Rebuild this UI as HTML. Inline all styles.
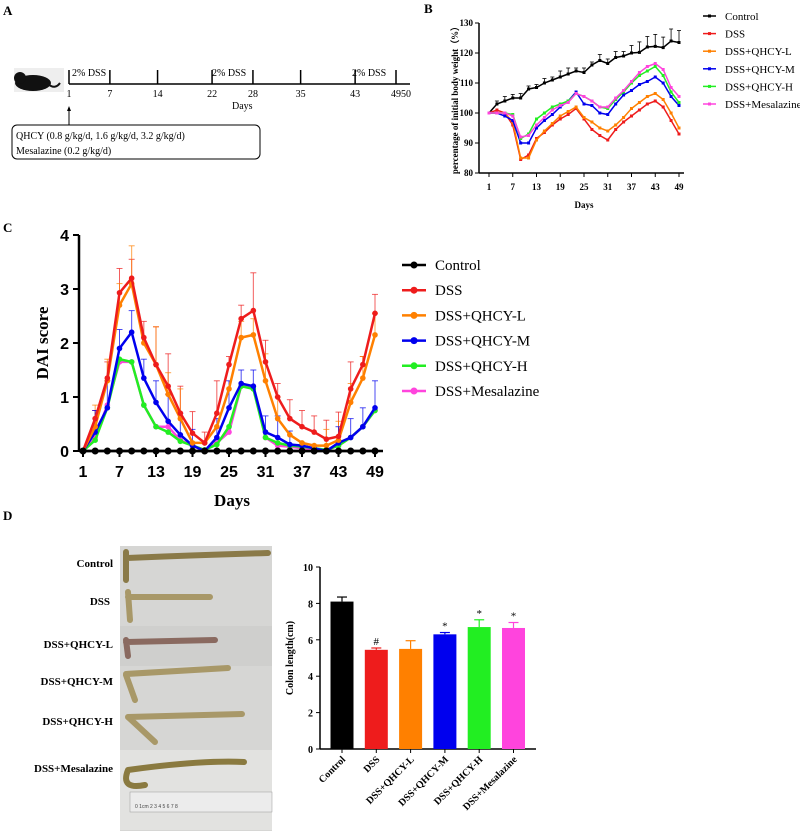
<!DOCTYPE html>
<html><head><meta charset="utf-8"><style>
html,body{margin:0;padding:0;background:#fff}
svg{display:block}
text{font-family:"Liberation Serif",serif}
.s{font-family:"Liberation Sans",sans-serif}
</style></head><body>
<svg id="fig" width="800" height="833" viewBox="0 0 800 833" xmlns="http://www.w3.org/2000/svg">
<g>
<text x="3" y="15" font-size="13" font-weight="bold">A</text>
<g>
<rect x="14" y="68" width="50" height="24" fill="#eee"/>
<ellipse cx="33" cy="83" rx="18" ry="8" fill="#111"/>
<circle cx="20" cy="78" r="6" fill="#111"/>
<path d="M48 84 Q55 90 60 83" stroke="#111" stroke-width="2" fill="none"/>
</g>
<line x1="69" y1="84" x2="410" y2="84" stroke="#000" stroke-width="1.5"/>
<g id="tl"></g>
<text x="72" y="76" font-size="10">2% DSS</text>
<text x="212" y="76" font-size="10">2% DSS</text>
<text x="352" y="76" font-size="10">2% DSS</text>
<text x="232" y="109" font-size="10">Days</text>
<line x1="69" y1="125" x2="69" y2="108" stroke="#000"/>
<path d="M67 111 L69 106 L71 111Z" fill="#000"/>
<rect x="12" y="125" width="248" height="34" rx="5" fill="none" stroke="#000"/>
<text x="16" y="139" font-size="10">QHCY (0.8 g/kg/d, 1.6 g/kg/d, 3.2 g/kg/d)</text>
<text x="16" y="154" font-size="10">Mesalazine (0.2 g/kg/d)</text>
</g>
<g id="pb">
<text x="424" y="13" font-size="13" font-weight="bold">B</text>
<text transform="translate(458,98) rotate(-90)" text-anchor="middle" font-size="9" font-weight="bold">percentage of initial body weight（%）</text>
<text x="584" y="208" text-anchor="middle" font-size="9" font-weight="bold">Days</text>
</g>
<g id="pc">
<text x="3" y="232" font-size="13" font-weight="bold">C</text>
<text transform="translate(48,343) rotate(-90)" text-anchor="middle" font-size="17" font-weight="bold">DAI score</text>
<text x="232" y="506" text-anchor="middle" font-size="17" font-weight="bold">Days</text>
</g>
<g id="pd">
<text x="3" y="520" font-size="13" font-weight="bold">D</text>
<g>
<rect x="120" y="546" width="152" height="285" fill="#d6d6d4"/>
<rect x="120" y="626" width="152" height="40" fill="#cfcfcd"/>
<rect x="120" y="750" width="152" height="80" fill="#e2e2e0"/>
<g stroke="#a89868" stroke-width="6" fill="none" stroke-linecap="round">
<path d="M126 552 L126 580 M126 558 Q200 555 268 553" stroke="#8a7a48"/>
<path d="M128 592 L130 620 M128 597 L210 597"/>
<path d="M126 640 L128 656 M126 642 L215 640" stroke="#8a6a60"/>
<path d="M126 675 L135 700 M126 674 L228 668"/>
<path d="M128 717 L155 742 M128 717 L242 714"/>
<path d="M128 770 Q120 790 145 785 M128 770 Q200 760 244 762" stroke="#8a7a40"/>
</g>
<rect x="130" y="792" width="142" height="20" fill="#ececec" stroke="#999" stroke-width="0.5"/>
<text x="135" y="808" font-size="5" class="s" fill="#444">0  1cm 2   3   4   5   6   7   8</text>
</g>
<g font-size="11" font-weight="bold" text-anchor="end">
<text x="113" y="567">Control</text>
<text x="110" y="605">DSS</text>
<text x="113" y="648">DSS+QHCY-L</text>
<text x="113" y="685">DSS+QHCY-M</text>
<text x="113" y="725">DSS+QHCY-H</text>
<text x="113" y="772">DSS+Mesalazine</text>
</g>
<text transform="translate(293,658) rotate(-90)" text-anchor="middle" font-size="10" font-weight="bold">Colon length(cm)</text>
</g>
<script>
const groups=["Control","DSS","DSS+QHCY-L","DSS+QHCY-M","DSS+QHCY-H","DSS+Mesalazine"];
const colors=["#000000","#ee1c1c","#ff8000","#0000ee","#22ee22","#ff44dd"];
const days=[1,3,5,7,9,11,13,15,17,19,21,23,25,27,29,31,33,35,37,39,41,43,45,47,49];
const bwControl=[100,103,104,105,105,108,108.5,110,111,112,113,114,113.5,116,117.5,116.5,118.5,119,120,120.2,122,122.2,121.8,124,123.5];
const bwControlErr=[0,1,1.5,1.2,1.5,1,1,1.5,1,2,2,1,1.5,1,2,1.5,2,1.5,2.5,3.5,3.5,4,3.5,4,4];
const bwDSS=[100,101,100,96,84.5,86,91.5,93.5,96,98,99.5,101.5,98,94.5,92.5,91,94.5,97,99,101,103,104,102,97.5,93];
const bwL=[100,100,100,97,85,85,91,94,96.5,99,100.5,102,98.5,97,95,94,96,98.5,101.5,103.5,105.5,106.5,104.5,100,95];
const bwM=[100,100,99,97.5,90,90,95,97.5,99.5,102,104,107,103,102.5,100,99.5,103,106,107.5,109.5,110.5,112,110,105.5,102.5];
const bwH=[100,100,100,99.5,91.5,93,98,100,102,103,104,106.5,105.5,104,102,101.5,104.5,107,110,112.5,114,115.5,112.5,107,103.5];
const bwMes=[100,100,100,99,92,92.5,96,98.5,101,102.5,103.5,106.5,105.5,104,102,102,105,107.5,110.5,113.5,115.5,116.5,114.5,108.5,105.5];
const bTicks=[80,90,100,110,120,130];
const daiControl=[0,0,0,0,0,0,0,0,0,0,0,0,0,0,0,0,0,0,0,0,0,0,0,0,0];
const daiDSS=[0,0.6,1.35,2.93,3.2,2.1,1.6,1.2,0.7,0.33,0.15,0.7,1.6,2.45,2.6,1.65,1.0,0.6,0.45,0.35,0.22,0.27,1.15,1.6,2.55];
const daiDSSErr=[0,0.15,0.3,0.45,0.35,0.3,0.7,0.6,0.5,0.4,0.2,0.6,0.15,0.25,0.7,0.4,0.25,0.35,0.3,0.3,0.35,0.45,0.5,0.15,0.35];
const daiL=[0,0.45,1.3,2.7,3.1,2.0,1.6,1.05,0.6,0.15,0.15,0.45,1.15,2.1,2.15,1.3,0.6,0.3,0.15,0.1,0.1,0.2,0.9,1.35,2.15];
const daiLErr=[0,0.4,0.4,0.4,0.7,0,0.7,0.4,0.55,0,0,0,0,0.3,0.3,0.5,0.4,0,0,0,0.3,0.35,0.35,0.4,0.4];
const daiM=[0,0.35,0.8,1.9,2.2,1.35,0.9,0.55,0.3,0.1,0,0.25,0.8,1.25,1.2,0.35,0.25,0.12,0.1,0.05,0,0.15,0.25,0.45,0.8];
const daiMErr=[0,0.4,0.5,0.35,0.4,0.35,0.4,0.5,0.4,0.3,0,0.35,0.5,0.25,0.3,0.3,0.4,0.25,0,0,0,0.3,0.35,0.35,0.5];
const daiH=[0,0.2,0.8,1.7,1.65,0.85,0.45,0.35,0.18,0.1,0.02,0.12,0.45,1.2,1.15,0.25,0.15,0.1,0.08,0.05,0.02,0.1,0.25,0.45,0.75];
const daiMes=[0,0.25,0.85,1.65,1.65,0.85,0.45,0.45,0.2,0.1,0.02,0.15,0.35,1.2,1.2,0.25,0.1,0.08,0.05,0.03,0.02,0.1,0.25,0.45,0.75];
const cTicks=[0,1,2,3,4];
const dayLabels=[1,7,13,19,25,31,37,43,49];
const colonLength=[8.1,5.45,5.5,6.3,6.7,6.65];
const colonErr=[0.25,0.1,0.45,0.1,0.4,0.3];
const colonMarks=["","#","","*","*","*"];
const dTicks=[0,2,4,6,8,10];
const tlDays=[1,7,14,22,28,35,43,49];

const NS="http://www.w3.org/2000/svg";
function mk(p,tag,a){const e=document.createElementNS(NS,tag);for(const k in a)e.setAttribute(k,a[k]);p.appendChild(e);return e;}

// timeline
const tl=document.getElementById('tl');
const tx=d=>69+(d-1)*(396-69)/48;
tlDays.forEach(d=>{
 const l=mk(tl,'line',{x1:tx(d),y1:70,x2:tx(d),y2:84,stroke:'#000','stroke-width':1.5});
 
 
 const t=mk(tl,'text',{x:tx(d),y:97,'font-size':10,'text-anchor':'middle'});t.textContent=d;
 
 
});
const t50=mk(tl,'text',{x:406,y:97,'font-size':10,'text-anchor':'middle'});t50.textContent='50';



// Panel B
const pb=document.getElementById('pb');
const bx=d=>489+(d-1)*(679-489)/48, by=v=>173-(v-80)*(150/50);
mk(pb,'line',{x1:479,y1:by(130),x2:479,y2:173,stroke:'#000','stroke-width':1.5});
mk(pb,'line',{x1:479,y1:173,x2:684,y2:173,stroke:'#000','stroke-width':1.5});
bTicks.forEach(v=>{mk(pb,'line',{x1:475,y1:by(v),x2:479,y2:by(v),stroke:'#000'});
 const t=mk(pb,'text',{x:473,y:by(v)+3,'font-size':9,'font-weight':'bold','text-anchor':'end'});t.textContent=v;
 
 });
dayLabels.forEach(d=>{mk(pb,'line',{x1:bx(d),y1:173,x2:bx(d),y2:177,stroke:'#000'});
 const t=mk(pb,'text',{x:bx(d),y:190,'font-size':9,'font-weight':'bold','text-anchor':'middle'});t.textContent=d;
 
 });
bwControl.forEach((v,j)=>{const e=bwControlErr[j];if(!e)return;
 mk(pb,'line',{x1:bx(days[j]),y1:by(v),x2:bx(days[j]),y2:by(v+e),stroke:'#000','stroke-width':0.8});
 mk(pb,'line',{x1:bx(days[j])-2,y1:by(v+e),x2:bx(days[j])+2,y2:by(v+e),stroke:'#000','stroke-width':0.8});});
const bSeries=[bwControl,bwDSS,bwL,bwM,bwH,bwMes];
bSeries.forEach((s,i)=>{
 const pl=mk(pb,'polyline',{points:s.map((v,j)=>bx(days[j])+','+by(v)).join(' '),fill:'none',stroke:colors[i],'stroke-width':1.5});
 
 
 s.forEach((v,j)=>{const m=mk(pb,'rect',{x:bx(days[j])-1.5,y:by(v)-1.5,width:3,height:3,fill:colors[i]});
  
  });
});
groups.forEach((g,i)=>{const y=16+i*17.6;
 mk(pb,'line',{x1:703,y1:y,x2:716,y2:y,stroke:colors[i],'stroke-width':1.5});
 mk(pb,'rect',{x:708,y:y-1.5,width:3,height:3,fill:colors[i]});
 const t=mk(pb,'text',{x:725,y:y+4,'font-size':11});t.textContent=g;
 
 });

// Panel C
const pc=document.getElementById('pc');
const cx=d=>83+(d-1)*(375-83)/48, cy=v=>451-v*54;
mk(pc,'line',{x1:79,y1:cy(4),x2:79,y2:451,stroke:'#000','stroke-width':2.5});
mk(pc,'line',{x1:79,y1:451,x2:383,y2:451,stroke:'#000','stroke-width':2.5});
cTicks.forEach(v=>{mk(pc,'line',{x1:73,y1:cy(v),x2:79,y2:cy(v),stroke:'#000','stroke-width':2});
 const t=mk(pc,'text',{x:69,y:cy(v)+6,'font-size':16,'font-weight':'bold','text-anchor':'end',class:'s'});t.textContent=v;
 
 });
dayLabels.forEach(d=>{mk(pc,'line',{x1:cx(d),y1:451,x2:cx(d),y2:457,stroke:'#000','stroke-width':2});
 const t=mk(pc,'text',{x:cx(d),y:477,'font-size':16,'font-weight':'bold','text-anchor':'middle',class:'s'});t.textContent=d;
 
 });
[[daiDSS,daiDSSErr,1],[daiL,daiLErr,2],[daiM,daiMErr,3]].forEach(([s,er,i])=>{
 s.forEach((v,j)=>{const e=er[j];if(!e)return;
  mk(pc,'line',{x1:cx(days[j]),y1:cy(v),x2:cx(days[j]),y2:cy(v+e),stroke:colors[i],'stroke-width':1,opacity:0.7});
  mk(pc,'line',{x1:cx(days[j])-3,y1:cy(v+e),x2:cx(days[j])+3,y2:cy(v+e),stroke:colors[i],'stroke-width':1,opacity:0.7});});});
const cSeries=[daiControl,daiDSS,daiL,daiM,daiH,daiMes];
[5,4,3,2,1,0].forEach(i=>{const s=cSeries[i];
 const pl=mk(pc,'polyline',{points:s.map((v,j)=>cx(days[j])+','+cy(v)).join(' '),fill:'none',stroke:colors[i],'stroke-width':2.5});
 
 
 s.forEach((v,j)=>{const m=mk(pc,'circle',{cx:cx(days[j]),cy:cy(v),r:i==0?3.5:2.8,fill:colors[i]});
  
  });
});
groups.forEach((g,i)=>{const y=265+i*25.2;
 mk(pc,'line',{x1:402,y1:y,x2:426,y2:y,stroke:colors[i],'stroke-width':2.5});
 mk(pc,'circle',{cx:414,cy:y,r:3.5,fill:colors[i]});
 const t=mk(pc,'text',{x:435,y:y+5,'font-size':15});t.textContent=g;
 
 });

// Panel D
const pd=document.getElementById('pd');
const dy=v=>749-v*18.2, dx=i=>342+i*34.3;
mk(pd,'line',{x1:320,y1:dy(10),x2:320,y2:749,stroke:'#000','stroke-width':1.5});
mk(pd,'line',{x1:320,y1:749,x2:536,y2:749,stroke:'#000','stroke-width':1.5});
dTicks.forEach(v=>{mk(pd,'line',{x1:316,y1:dy(v),x2:320,y2:dy(v),stroke:'#000'});
 const t=mk(pd,'text',{x:313,y:dy(v)+4,'font-size':10,'font-weight':'bold','text-anchor':'end'});t.textContent=v;
 
 });
colonLength.forEach((v,i)=>{
 const e=colonErr[i];
 mk(pd,'line',{x1:dx(i),y1:dy(v),x2:dx(i),y2:dy(v+e),stroke:colors[i],'stroke-width':1.2});
 mk(pd,'line',{x1:dx(i)-5,y1:dy(v+e),x2:dx(i)+5,y2:dy(v+e),stroke:colors[i],'stroke-width':1.2});
 const b=mk(pd,'rect',{x:dx(i)-11.5,y:dy(v),width:23,height:749-dy(v),fill:colors[i]});
 
 
 mk(pd,'line',{x1:dx(i),y1:749,x2:dx(i),y2:753,stroke:'#000'});
 if(colonMarks[i]){const m=mk(pd,'text',{x:dx(i),y:dy(v+e)-3,'font-size':11,'text-anchor':'middle'});m.textContent=colonMarks[i];
  
  }
 const t=mk(pd,'text',{transform:`translate(${dx(i)+4},760) rotate(-45)`,'font-size':10,'font-weight':'bold','text-anchor':'end'});t.textContent=groups[i];
 
 
});
</script>
</svg>
</body></html>
